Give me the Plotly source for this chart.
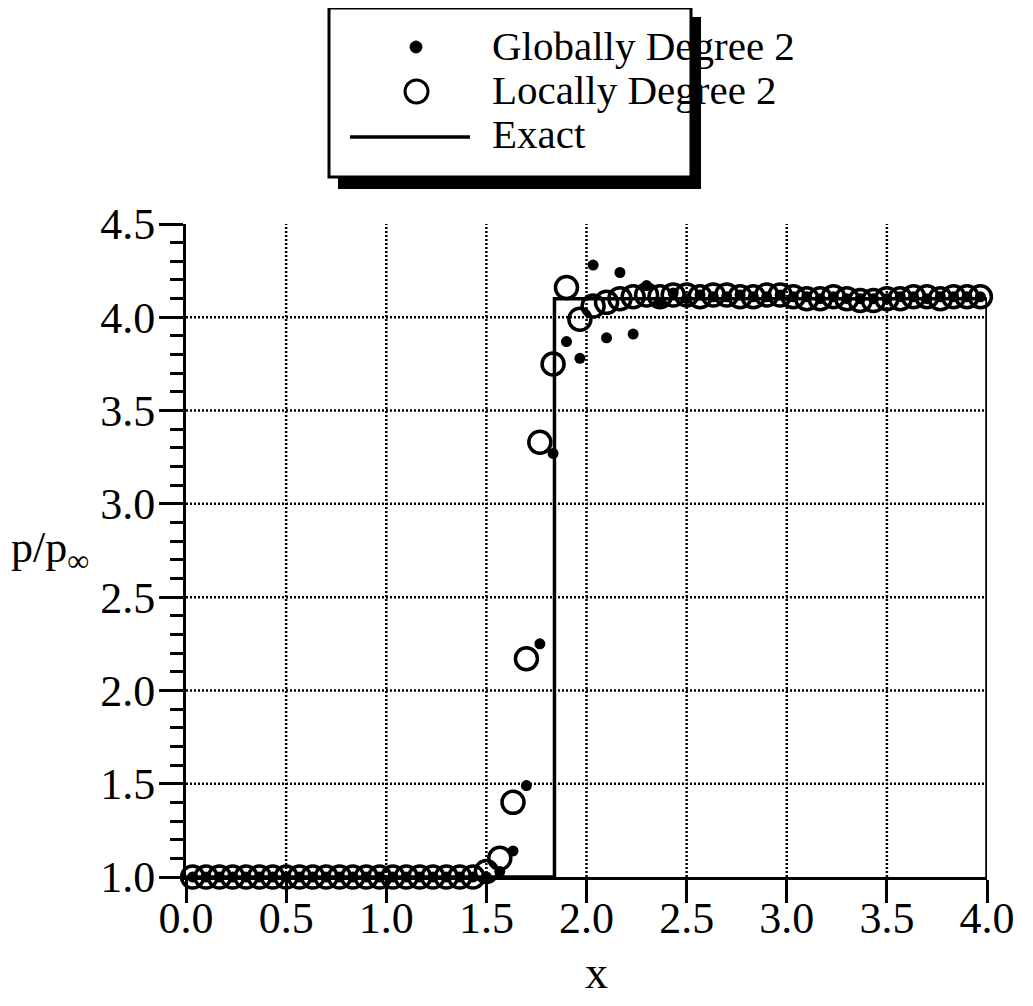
import plotly.graph_objects as go

# ---------------- data ----------------
x_cells = [0.033, 0.100, 0.167, 0.233, 0.300, 0.367, 0.433, 0.500, 0.567, 0.633,
           0.700, 0.767, 0.833, 0.900, 0.967, 1.033, 1.100, 1.167, 1.233, 1.300,
           1.367, 1.433, 1.500, 1.567, 1.633, 1.700, 1.767, 1.833, 1.900, 1.967,
           2.033, 2.100, 2.167, 2.233, 2.300, 2.367, 2.433, 2.500, 2.567, 2.633,
           2.700, 2.767, 2.833, 2.900, 2.967, 3.033, 3.100, 3.167, 3.233, 3.300,
           3.367, 3.433, 3.500, 3.567, 3.633, 3.700, 3.767, 3.833, 3.900, 3.967]

globally_deg2 = [1.00, 1.00, 1.00, 1.00, 1.00, 1.00, 1.00, 1.00, 1.00, 1.00,
                 1.00, 1.00, 1.00, 1.00, 1.00, 1.00, 1.00, 1.00, 1.00, 1.00,
                 1.00, 1.00, 1.00, 1.03, 1.14, 1.49, 2.25, 3.27, 3.87, 3.78,
                 4.28, 3.89, 4.24, 3.91, 4.17, 4.08, 4.13, 4.10, 4.12, 4.11,
                 4.11, 4.12, 4.11, 4.11, 4.12, 4.11, 4.11, 4.10, 4.11, 4.10,
                 4.10, 4.10, 4.10, 4.11, 4.11, 4.10, 4.11, 4.11, 4.11, 4.11]

locally_deg2 = [1.00, 1.00, 1.00, 1.00, 1.00, 1.00, 1.00, 1.00, 1.00, 1.00,
                1.00, 1.00, 1.00, 1.00, 1.00, 1.00, 1.00, 1.00, 1.00, 1.00,
                1.00, 1.00, 1.03, 1.10, 1.40, 2.17, 3.33, 3.75, 4.16, 3.99,
                4.06, 4.08, 4.10, 4.11, 4.12, 4.11, 4.12, 4.12, 4.11, 4.12,
                4.12, 4.11, 4.11, 4.12, 4.12, 4.11, 4.10, 4.10, 4.11, 4.10,
                4.09, 4.09, 4.10, 4.10, 4.11, 4.11, 4.10, 4.11, 4.11, 4.11]

exact_x = [0.0, 1.84, 1.84, 4.0, 4.0]
exact_y = [1.0, 1.0, 4.10, 4.10, 1.0]

x_ticks = [0.0, 0.5, 1.0, 1.5, 2.0, 2.5, 3.0, 3.5, 4.0]
y_ticks = [1.0, 1.5, 2.0, 2.5, 3.0, 3.5, 4.0, 4.5]
x_grid = [0.5, 1.0, 1.5, 2.0, 2.5, 3.0, 3.5]
y_grid = [1.5, 2.0, 2.5, 3.0, 3.5, 4.0]

legend_labels = ["Globally Degree 2", "Locally Degree 2", "Exact"]

# ---------------- layout geometry ----------------
W, H = 1033, 1006
OFF = 8                      # page body margin
PLOT_X0, PLOT_X1 = 186, 987  # target page pixels of plot area
PLOT_Y0, PLOT_Y1 = 224, 877
L = PLOT_X0 - OFF
T = PLOT_Y0 - OFF
PW = PLOT_X1 - PLOT_X0
PH = PLOT_Y1 - PLOT_Y0
R = W - L - PW
B = H - T - PH
FONT = "Liberation Serif, Times New Roman, serif"


def px(xp):
    return (xp - PLOT_X0) / PW


def py(yp):
    return (PLOT_Y1 - yp) / PH


fig = go.Figure()

fig.add_trace(go.Scatter(x=exact_x, y=exact_y, mode="lines",
                         line=dict(color="black", width=3.5),
                         name=legend_labels[2], showlegend=False,
                         cliponaxis=False))
fig.add_trace(go.Scatter(x=x_cells, y=locally_deg2, mode="markers",
                         marker=dict(symbol="circle-open", size=22, color="black",
                                     line=dict(width=3.5, color="black")),
                         name=legend_labels[1], showlegend=False,
                         cliponaxis=False))
fig.add_trace(go.Scatter(x=x_cells, y=globally_deg2, mode="markers",
                         marker=dict(symbol="circle", size=11, color="black"),
                         name=legend_labels[0], showlegend=False,
                         cliponaxis=False))

shapes = []
# dotted grid
for gx in x_grid:
    shapes.append(dict(type="line", xref="x", yref="y", x0=gx, x1=gx, y0=1.0, y1=4.5,
                       line=dict(color="black", width=2.5, dash="2px,2px"), layer="below"))
for gy in y_grid:
    shapes.append(dict(type="line", xref="x", yref="y", x0=0.0, x1=4.0, y0=gy, y1=gy,
                       line=dict(color="black", width=2.5, dash="2px,2px"), layer="below"))

# legend box with shadow
shapes.append(dict(type="rect", xref="paper", yref="paper",
                   x0=px(338), x1=px(701), y0=py(189), y1=py(17),
                   fillcolor="black", line=dict(width=0), layer="above"))
shapes.append(dict(type="rect", xref="paper", yref="paper",
                   x0=px(329), x1=px(691), y0=py(177), y1=py(8),
                   fillcolor="white", line=dict(color="black", width=3), layer="above"))
# legend symbols
shapes.append(dict(type="circle", xref="paper", yref="paper",
                   x0=px(410), x1=px(422), y0=py(53), y1=py(41),
                   fillcolor="black", line=dict(color="black", width=1), layer="above"))
shapes.append(dict(type="circle", xref="paper", yref="paper",
                   x0=px(405), x1=px(428), y0=py(103), y1=py(80),
                   fillcolor="rgba(0,0,0,0)", line=dict(color="black", width=3), layer="above"))
shapes.append(dict(type="line", xref="paper", yref="paper",
                   x0=px(350), x1=px(470), y0=py(137), y1=py(137),
                   line=dict(color="black", width=3.5), layer="above"))

annotations = []
for lbl, yc in zip(legend_labels, [46, 90, 134]):
    annotations.append(dict(text=lbl, xref="paper", yref="paper", x=px(490), y=py(yc),
                            xanchor="left", yanchor="middle", showarrow=False,
                            font=dict(family=FONT, size=41, color="black")))
annotations.append(dict(text="p/p<sub>∞</sub>", xref="paper", yref="paper",
                        x=px(50), y=py(550), xanchor="center", yanchor="middle",
                        showarrow=False, font=dict(family=FONT, size=44, color="black")))
annotations.append(dict(text="x", xref="paper", yref="paper",
                        x=px(596), y=py(972), xanchor="center", yanchor="middle",
                        showarrow=False, font=dict(family=FONT, size=46, color="black")))

fig.update_layout(
    width=W, height=H,
    margin=dict(l=L, r=R, t=T, b=B, pad=0),
    paper_bgcolor="white", plot_bgcolor="white",
    showlegend=False,
    shapes=shapes, annotations=annotations,
    font=dict(family=FONT, size=44, color="black"),
    xaxis=dict(range=[0, 4], tickvals=x_ticks, tickformat=".1f",
               showgrid=False, zeroline=False, showline=True, linecolor="black",
               linewidth=3, ticks="outside", ticklen=23, tickwidth=2.5, tickcolor="black",
               ticklabelstandoff=-23,
               tickfont=dict(family=FONT, size=44, color="black")),
    yaxis=dict(range=[1, 4.5], tickvals=y_ticks, tickformat=".1f",
               showgrid=False, zeroline=False, showline=True, linecolor="black",
               linewidth=3, ticks="outside", ticklen=24, tickwidth=2.5, tickcolor="black",
               ticklabelstandoff=-5,
               minor=dict(dtick=0.1, tick0=1.0, ticks="outside", ticklen=13,
                          tickwidth=2.5, tickcolor="black", showgrid=False),
               tickfont=dict(family=FONT, size=44, color="black")),
)

fig.write_html("out.html")
